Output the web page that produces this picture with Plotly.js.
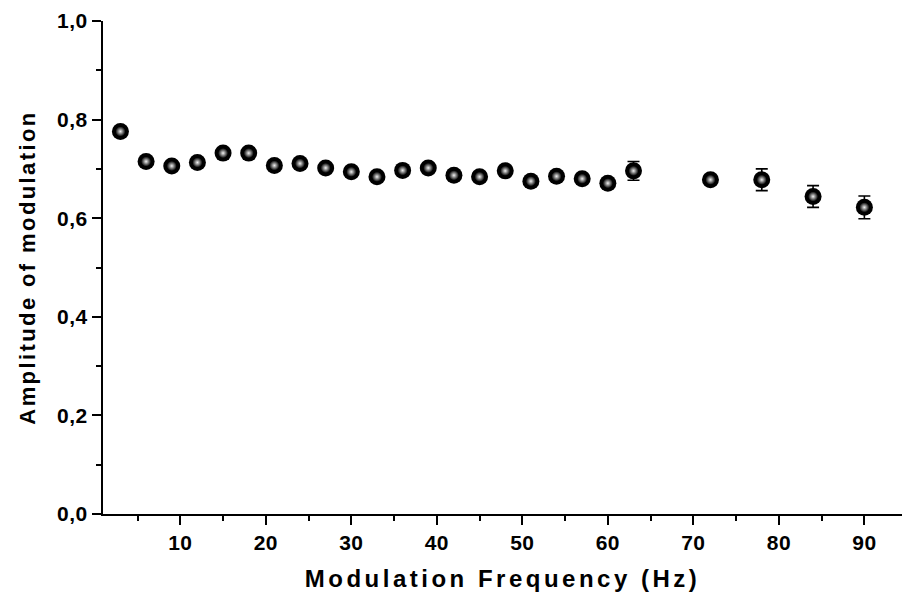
<!DOCTYPE html>
<html>
<head>
<meta charset="utf-8">
<script src="https://cdn.plot.ly/plotly-3.0.1.min.js"></script>
<style>
  html, body { margin: 0; padding: 0; background: #fff; }
  #chart { width: 902px; height: 598px; }
  .xtitle { letter-spacing: 3.5px; }
  .ytitle { letter-spacing: 2.4px; }
  .xtick text, .ytick text { letter-spacing: 0.5px; }
</style>
</head>
<body>
<div id="chart"></div>
<script>
const freqHz = [3, 6, 9, 12, 15, 18, 21, 24, 27, 30, 33, 36, 39, 42, 45, 48, 51, 54, 57, 60, 63, 72, 78, 84, 90];
const amplitude = [0.776, 0.715, 0.706, 0.713, 0.732, 0.732, 0.707, 0.711, 0.702, 0.694, 0.684, 0.697,
                   0.702, 0.687, 0.684, 0.696, 0.675, 0.685, 0.680, 0.671, 0.696, 0.678, 0.678, 0.644, 0.622];
const amplitudeErr = [0.008, 0.008, 0.008, 0.008, 0.008, 0.008, 0.008, 0.008, 0.008, 0.008, 0.008, 0.008,
                      0.008, 0.008, 0.008, 0.008, 0.008, 0.008, 0.008, 0.008, 0.019, 0.008, 0.022, 0.022, 0.023];

const fontFamily = '"Liberation Sans", Arial, sans-serif';

const traces = [
  {
    x: freqHz, y: amplitude, type: 'scatter', mode: 'markers',
    error_y: { type: 'data', array: amplitudeErr, visible: true, color: '#000', thickness: 1.6, width: 6 },
    marker: { size: 17, color: '#000', line: { width: 0 } },
    hoverinfo: 'x+y', showlegend: false
  },
  {
    x: freqHz, y: amplitude, type: 'scatter', mode: 'markers',
    marker: { size: 10, color: '#000', gradient: { type: 'radial', color: '#f2f2f2' }, line: { width: 0 } },
    hoverinfo: 'skip', showlegend: false
  }
];

const layout = {
  width: 902, height: 598,
  margin: { l: 103, r: 0, t: 21, b: 84 },
  paper_bgcolor: '#fff', plot_bgcolor: '#fff',
  separators: ',.',
  font: { family: fontFamily, color: '#000', size: 21, weight: 'bold' },
  xaxis: {
    range: [0.96, 94.4], showgrid: false, zeroline: false,
    showline: true, linecolor: '#000', linewidth: 2,
    ticks: 'outside', ticklen: 9, tickwidth: 2, tickcolor: '#000',
    tick0: 10, dtick: 10,
    minor: { ticks: 'outside', ticklen: 5, tickwidth: 2, tickcolor: '#000', dtick: 5, tick0: 0, showgrid: false },
    tickfont: { family: fontFamily, size: 21, weight: 'bold', color: '#000' },
    title: { text: 'Modulation Frequency (Hz)', standoff: 17,
             font: { family: fontFamily, size: 24, weight: 'bold', color: '#000' } }
  },
  yaxis: {
    range: [0, 1.0], showgrid: false, zeroline: false,
    showline: true, linecolor: '#000', linewidth: 2,
    ticks: 'outside', ticklen: 9, tickwidth: 2, tickcolor: '#000',
    tick0: 0, dtick: 0.2, tickformat: '.1f',
    minor: { ticks: 'outside', ticklen: 5, tickwidth: 2, tickcolor: '#000', dtick: 0.1, tick0: 0, showgrid: false },
    tickfont: { family: fontFamily, size: 21, weight: 'bold', color: '#000' },
    title: { text: 'Amplitude of modulation', standoff: 15,
             font: { family: fontFamily, size: 22, weight: 'bold', color: '#000' } }
  }
};

Plotly.newPlot('chart', traces, layout, { displayModeBar: false, staticPlot: true });
</script>
</body>
</html>
